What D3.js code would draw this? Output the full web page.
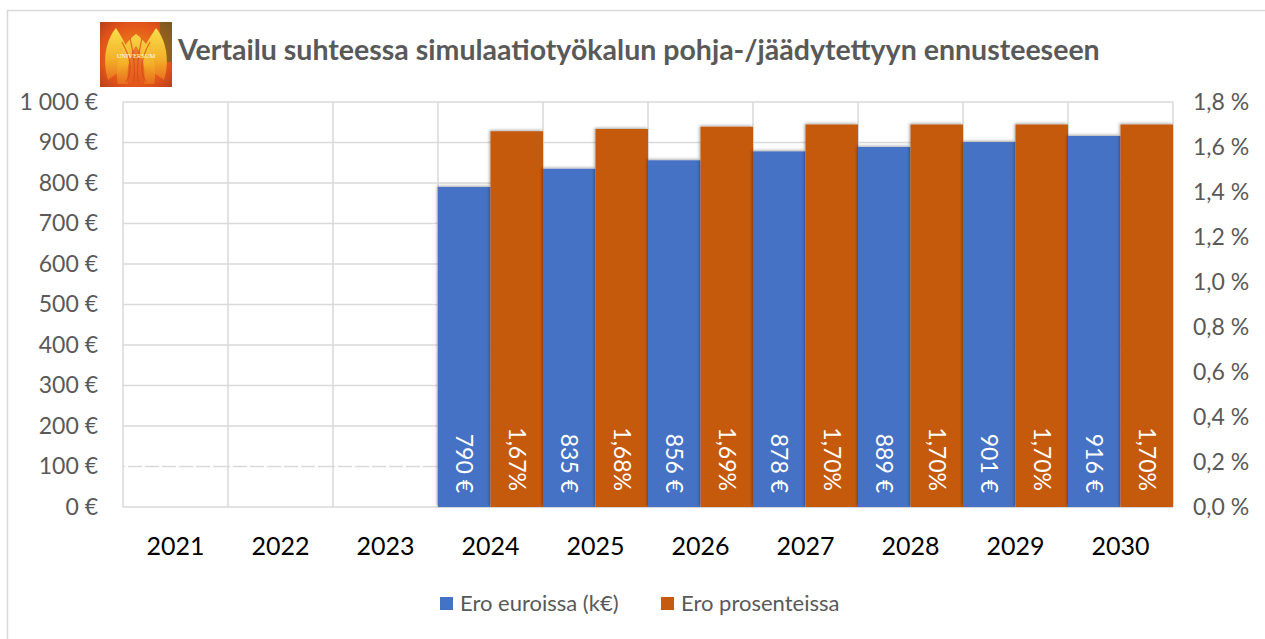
<!DOCTYPE html>
<html>
<head>
<meta charset="utf-8">
<script src="https://cdn.jsdelivr.net/npm/d3@7/dist/d3.min.js"></script>
<style>
  html, body { margin: 0; padding: 0; background: #fff; }
  svg { display: block; font-family: Lato, "Open Sans", sans-serif; }
</style>
</head>
<body>
<svg id="chart" width="1265" height="639"></svg>
<script>
// ---- data ----
const years = ["2021", "2022", "2023", "2024", "2025", "2026", "2027", "2028", "2029", "2030"];
const euroValues = [null, null, null, 790, 835, 856, 878, 889, 901, 916];
const pctValues = [null, null, null, 1.67, 1.68, 1.69, 1.70, 1.70, 1.70, 1.70];
const leftTicks = [0, 100, 200, 300, 400, 500, 600, 700, 800, 900, 1000];
const rightTicks = [0, 0.2, 0.4, 0.6, 0.8, 1.0, 1.2, 1.4, 1.6, 1.8];
const seriesNames = ["Ero euroissa (k€)", "Ero prosenteissa"];
const seriesColors = ["#4472C4", "#C55A11"];
const titleText = "Vertailu suhteessa simulaatiotyökalun pohja-/jäädytettyyn ennusteeseen";

// ---- layout ----
const svg = d3.select("#chart");
const plot = { left: 123, right: 1173, top: 102, bottom: 507 };

const x = d3.scaleBand().domain(years).range([plot.left, plot.right]).padding(0);
const x1 = d3.scaleBand().domain([0, 1]).range([0, x.bandwidth()]).padding(0);
const yL = d3.scaleLinear().domain([0, 1000]).range([plot.bottom, plot.top]);
const yR = d3.scaleLinear().domain([0, 1.8]).range([plot.bottom, plot.top]);

const fmtEuro = v => d3.format(",")(v).replace(/,/g, " ") + " €";
const fmtPctAxis = v => v.toFixed(1).replace(".", ",") + " %";
const fmtPctLabel = v => v.toFixed(2).replace(".", ",") + "%";

// defs
const defs = svg.append("defs");
const sh = defs.append("filter").attr("id", "shadow").attr("x", "-20%").attr("y", "-10%").attr("width", "140%").attr("height", "120%");
sh.append("feDropShadow").attr("dx", -1).attr("dy", -1).attr("stdDeviation", 1.6)
  .attr("flood-color", "#000").attr("flood-opacity", 0.35);

const bg = defs.append("radialGradient").attr("id", "tulipBg").attr("cx", "50%").attr("cy", "50%").attr("r", "70%");
bg.append("stop").attr("offset", "0%").attr("stop-color", "#f08a1c");
bg.append("stop").attr("offset", "70%").attr("stop-color", "#e2531a");
bg.append("stop").attr("offset", "100%").attr("stop-color", "#b8401c");
const pg = defs.append("linearGradient").attr("id", "petal").attr("x1", "0").attr("y1", "0").attr("x2", "0").attr("y2", "1");
pg.append("stop").attr("offset", "0%").attr("stop-color", "#f9e04a");
pg.append("stop").attr("offset", "60%").attr("stop-color", "#f4b028");
pg.append("stop").attr("offset", "100%").attr("stop-color", "#e8701e");

// outer chart border
svg.append("rect").attr("x", 7.5).attr("y", 10.5).attr("width", 1300).attr("height", 700)
  .attr("fill", "#fff").attr("stroke", "#d9d9d9").attr("stroke-width", 1.5);

// logo
const logo = svg.append("g").attr("transform", "translate(100,22)");
logo.append("rect").attr("width", 72).attr("height", 65).attr("fill", "url(#tulipBg)");
logo.append("rect").attr("x", 60).attr("y", 0).attr("width", 12).attr("height", 40).attr("fill", "#4f6a22").attr("opacity", 0.55);
logo.append("path").attr("d", "M8,58 C2,38 6,18 16,6 C24,18 28,28 33,40 Z").attr("fill", "url(#petal)");
logo.append("path").attr("d", "M64,58 C70,38 66,18 56,6 C48,18 42,28 38,40 Z").attr("fill", "url(#petal)");
logo.append("path").attr("d", "M18,62 C14,44 20,24 36,12 C52,24 58,44 54,62 Z").attr("fill", "url(#petal)").attr("opacity", 0.9);
logo.append("path").attr("d", "M28,62 C26,46 30,32 36,24 C42,32 46,46 44,62 Z").attr("fill", "#e04a1c").attr("opacity", 0.6);
[[22, 20], [30, 16], [42, 16], [50, 20]].forEach(([px, py]) => {
  logo.append("path").attr("d", `M${px},${py} Q${36},${py + 25} ${px < 36 ? px + 4 : px - 4},60`)
    .attr("stroke", "#d8401a").attr("stroke-width", 1.2).attr("fill", "none").attr("opacity", 0.7);
});
logo.append("text").attr("x", 36).attr("y", 36).attr("text-anchor", "middle")
  .attr("font-family", "Liberation Serif, serif").attr("font-size", 6.5).attr("fill", "#fff").text("UNIVERSUM");

// title
const title = svg.append("text").attr("x", 178).attr("y", 60)
  .attr("font-weight", "bold").attr("font-size", 30).attr("fill", "#595959").text(titleText);
const tw = title.node().getComputedTextLength();
title.attr("font-size", 30 * 922 / tw);

// gridlines (horizontal)
const grid = svg.append("g").attr("stroke", "#d9d9d9").attr("stroke-width", 1.5);
leftTicks.forEach(t => {
  grid.append("line").attr("x1", plot.left).attr("x2", plot.right)
    .attr("y1", yL(t)).attr("y2", yL(t));
});
// vertical gridlines at category boundaries
years.forEach((yr) => {
  grid.append("line").attr("x1", x(yr)).attr("x2", x(yr)).attr("y1", plot.top).attr("y2", plot.bottom);
});
grid.append("line").attr("x1", plot.right).attr("x2", plot.right).attr("y1", plot.top).attr("y2", plot.bottom);

// zero-value label dashes at 100 gridline in empty categories
const emptyYears = years.filter((y, i) => euroValues[i] === null);
emptyYears.forEach(yr => {
  svg.append("line").attr("x1", x(yr) + 2).attr("x2", x(yr) + x.bandwidth() - 2)
    .attr("y1", yL(100)).attr("y2", yL(100))
    .attr("stroke", "#fff").attr("stroke-width", 2).attr("stroke-dasharray", "3,14");
});

// bars
const rows = years.map((yr, i) => ({ yr, e: euroValues[i], p: pctValues[i] }));
const bars = svg.append("g");
rows.filter(r => r.e !== null).forEach(r => {
  bars.append("rect").attr("x", x(r.yr) + x1(0)).attr("width", x1.bandwidth())
    .attr("y", yL(r.e)).attr("height", yL(0) - yL(r.e))
    .attr("fill", seriesColors[0]).attr("filter", "url(#shadow)");
  bars.append("rect").attr("x", x(r.yr) + x1(1)).attr("width", x1.bandwidth())
    .attr("y", yR(r.p)).attr("height", yR(0) - yR(r.p))
    .attr("fill", seriesColors[1]).attr("filter", "url(#shadow)");
});

// data labels (rotated)
const labels = svg.append("g").attr("fill", "#fff").attr("font-size", 23);
rows.filter(r => r.e !== null).forEach(r => {
  const cx0 = x(r.yr) + x1(0) + x1.bandwidth() / 2;
  const cx1 = x(r.yr) + x1(1) + x1.bandwidth() / 2;
  labels.append("text").attr("transform", `translate(${cx0},${plot.bottom - 14}) rotate(90)`)
    .attr("text-anchor", "end").attr("dy", "0.35em").text(fmtEuro(r.e));
  labels.append("text").attr("transform", `translate(${cx1},${plot.bottom - 16}) rotate(90)`)
    .attr("text-anchor", "end").attr("dy", "0.35em").text(fmtPctLabel(r.p));
});

// axes
const axL = svg.append("g").attr("transform", `translate(${plot.left - 25},0)`)
  .call(d3.axisLeft(yL).tickValues(leftTicks).tickFormat(fmtEuro).tickSize(0).tickPadding(0));
axL.select(".domain").remove();
axL.selectAll("text").attr("font-size", 23).attr("fill", "#595959").attr("font-family", "Lato, sans-serif");

const axR = svg.append("g").attr("transform", `translate(${plot.right + 20},0)`)
  .call(d3.axisRight(yR).tickValues(rightTicks).tickFormat(fmtPctAxis).tickSize(0).tickPadding(0));
axR.select(".domain").remove();
axR.selectAll("text").attr("font-size", 23).attr("fill", "#595959").attr("font-family", "Lato, sans-serif");

const axB = svg.append("g").attr("transform", `translate(0,${plot.bottom})`)
  .call(d3.axisBottom(x).tickSize(0).tickPadding(30));
axB.select(".domain").remove();
axB.selectAll("text").attr("font-size", 25).attr("fill", "#000").attr("font-family", "Lato, sans-serif");

// legend
const legend = svg.append("g").attr("font-size", 22).attr("fill", "#595959");
const legX = [440, 661];
seriesNames.forEach((name, i) => {
  legend.append("rect").attr("x", legX[i]).attr("y", 597).attr("width", 13).attr("height", 13).attr("fill", seriesColors[i]);
  legend.append("text").attr("x", legX[i] + 20).attr("y", 611).text(name);
});
</script>
</body>
</html>
